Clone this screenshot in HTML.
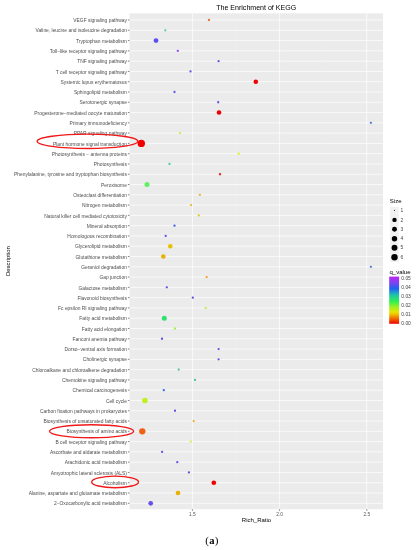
<!DOCTYPE html><html><head><meta charset="utf-8"><style>html,body{margin:0;padding:0;background:#fff;}svg{display:block;filter:blur(0.5px);}</style></head><body>
<svg width="419" height="550" viewBox="0 0 419 550" font-family="Liberation Sans, sans-serif">
<rect x="0" y="0" width="419" height="550" fill="#fff"/>
<rect x="129.5" y="13.3" width="253.50" height="495.90" fill="#ebebeb"/>
<line x1="148.80" y1="13.3" x2="148.80" y2="509.2" stroke="#efefef" stroke-width="0.4"/>
<line x1="236.00" y1="13.3" x2="236.00" y2="509.2" stroke="#efefef" stroke-width="0.4"/>
<line x1="323.20" y1="13.3" x2="323.20" y2="509.2" stroke="#efefef" stroke-width="0.4"/>
<line x1="129.5" y1="20.00" x2="383.0" y2="20.00" stroke="#fff" stroke-width="0.7"/>
<line x1="129.5" y1="30.28" x2="383.0" y2="30.28" stroke="#fff" stroke-width="0.7"/>
<line x1="129.5" y1="40.57" x2="383.0" y2="40.57" stroke="#fff" stroke-width="0.7"/>
<line x1="129.5" y1="50.85" x2="383.0" y2="50.85" stroke="#fff" stroke-width="0.7"/>
<line x1="129.5" y1="61.13" x2="383.0" y2="61.13" stroke="#fff" stroke-width="0.7"/>
<line x1="129.5" y1="71.41" x2="383.0" y2="71.41" stroke="#fff" stroke-width="0.7"/>
<line x1="129.5" y1="81.70" x2="383.0" y2="81.70" stroke="#fff" stroke-width="0.7"/>
<line x1="129.5" y1="91.98" x2="383.0" y2="91.98" stroke="#fff" stroke-width="0.7"/>
<line x1="129.5" y1="102.26" x2="383.0" y2="102.26" stroke="#fff" stroke-width="0.7"/>
<line x1="129.5" y1="112.55" x2="383.0" y2="112.55" stroke="#fff" stroke-width="0.7"/>
<line x1="129.5" y1="122.83" x2="383.0" y2="122.83" stroke="#fff" stroke-width="0.7"/>
<line x1="129.5" y1="133.11" x2="383.0" y2="133.11" stroke="#fff" stroke-width="0.7"/>
<line x1="129.5" y1="143.40" x2="383.0" y2="143.40" stroke="#fff" stroke-width="0.7"/>
<line x1="129.5" y1="153.68" x2="383.0" y2="153.68" stroke="#fff" stroke-width="0.7"/>
<line x1="129.5" y1="163.96" x2="383.0" y2="163.96" stroke="#fff" stroke-width="0.7"/>
<line x1="129.5" y1="174.25" x2="383.0" y2="174.25" stroke="#fff" stroke-width="0.7"/>
<line x1="129.5" y1="184.53" x2="383.0" y2="184.53" stroke="#fff" stroke-width="0.7"/>
<line x1="129.5" y1="194.81" x2="383.0" y2="194.81" stroke="#fff" stroke-width="0.7"/>
<line x1="129.5" y1="205.09" x2="383.0" y2="205.09" stroke="#fff" stroke-width="0.7"/>
<line x1="129.5" y1="215.38" x2="383.0" y2="215.38" stroke="#fff" stroke-width="0.7"/>
<line x1="129.5" y1="225.66" x2="383.0" y2="225.66" stroke="#fff" stroke-width="0.7"/>
<line x1="129.5" y1="235.94" x2="383.0" y2="235.94" stroke="#fff" stroke-width="0.7"/>
<line x1="129.5" y1="246.23" x2="383.0" y2="246.23" stroke="#fff" stroke-width="0.7"/>
<line x1="129.5" y1="256.51" x2="383.0" y2="256.51" stroke="#fff" stroke-width="0.7"/>
<line x1="129.5" y1="266.79" x2="383.0" y2="266.79" stroke="#fff" stroke-width="0.7"/>
<line x1="129.5" y1="277.07" x2="383.0" y2="277.07" stroke="#fff" stroke-width="0.7"/>
<line x1="129.5" y1="287.36" x2="383.0" y2="287.36" stroke="#fff" stroke-width="0.7"/>
<line x1="129.5" y1="297.64" x2="383.0" y2="297.64" stroke="#fff" stroke-width="0.7"/>
<line x1="129.5" y1="307.92" x2="383.0" y2="307.92" stroke="#fff" stroke-width="0.7"/>
<line x1="129.5" y1="318.21" x2="383.0" y2="318.21" stroke="#fff" stroke-width="0.7"/>
<line x1="129.5" y1="328.49" x2="383.0" y2="328.49" stroke="#fff" stroke-width="0.7"/>
<line x1="129.5" y1="338.77" x2="383.0" y2="338.77" stroke="#fff" stroke-width="0.7"/>
<line x1="129.5" y1="349.06" x2="383.0" y2="349.06" stroke="#fff" stroke-width="0.7"/>
<line x1="129.5" y1="359.34" x2="383.0" y2="359.34" stroke="#fff" stroke-width="0.7"/>
<line x1="129.5" y1="369.62" x2="383.0" y2="369.62" stroke="#fff" stroke-width="0.7"/>
<line x1="129.5" y1="379.90" x2="383.0" y2="379.90" stroke="#fff" stroke-width="0.7"/>
<line x1="129.5" y1="390.19" x2="383.0" y2="390.19" stroke="#fff" stroke-width="0.7"/>
<line x1="129.5" y1="400.47" x2="383.0" y2="400.47" stroke="#fff" stroke-width="0.7"/>
<line x1="129.5" y1="410.75" x2="383.0" y2="410.75" stroke="#fff" stroke-width="0.7"/>
<line x1="129.5" y1="421.04" x2="383.0" y2="421.04" stroke="#fff" stroke-width="0.7"/>
<line x1="129.5" y1="431.32" x2="383.0" y2="431.32" stroke="#fff" stroke-width="0.7"/>
<line x1="129.5" y1="441.60" x2="383.0" y2="441.60" stroke="#fff" stroke-width="0.7"/>
<line x1="129.5" y1="451.89" x2="383.0" y2="451.89" stroke="#fff" stroke-width="0.7"/>
<line x1="129.5" y1="462.17" x2="383.0" y2="462.17" stroke="#fff" stroke-width="0.7"/>
<line x1="129.5" y1="472.45" x2="383.0" y2="472.45" stroke="#fff" stroke-width="0.7"/>
<line x1="129.5" y1="482.73" x2="383.0" y2="482.73" stroke="#fff" stroke-width="0.7"/>
<line x1="129.5" y1="493.02" x2="383.0" y2="493.02" stroke="#fff" stroke-width="0.7"/>
<line x1="129.5" y1="503.30" x2="383.0" y2="503.30" stroke="#fff" stroke-width="0.7"/>
<line x1="192.40" y1="13.3" x2="192.40" y2="509.2" stroke="#fff" stroke-width="0.7"/>
<line x1="279.60" y1="13.3" x2="279.60" y2="509.2" stroke="#fff" stroke-width="0.7"/>
<line x1="366.80" y1="13.3" x2="366.80" y2="509.2" stroke="#fff" stroke-width="0.7"/>
<circle cx="208.9" cy="20.00" r="1.15" fill="#f07030"/>
<circle cx="165.3" cy="30.28" r="1.15" fill="#50d090"/>
<circle cx="156" cy="40.57" r="2.40" fill="#5d4ff5"/>
<circle cx="177.8" cy="50.85" r="1.15" fill="#8c48e8"/>
<circle cx="218.6" cy="61.13" r="1.15" fill="#6c50e8"/>
<circle cx="190.5" cy="71.41" r="1.15" fill="#5a58e8"/>
<circle cx="255.8" cy="81.70" r="2.30" fill="#f00000"/>
<circle cx="174.5" cy="91.98" r="1.15" fill="#5a58e8"/>
<circle cx="218.2" cy="102.26" r="1.15" fill="#6c50e8"/>
<circle cx="219" cy="112.55" r="2.30" fill="#f00000"/>
<circle cx="370.9" cy="122.83" r="1.15" fill="#4a78d8"/>
<circle cx="180" cy="133.11" r="1.15" fill="#c8f040"/>
<circle cx="141.3" cy="143.40" r="3.70" fill="#f00000"/>
<circle cx="238.8" cy="153.68" r="1.15" fill="#e0f020"/>
<circle cx="169.5" cy="163.96" r="1.15" fill="#40d090"/>
<circle cx="220" cy="174.25" r="1.15" fill="#f02020"/>
<circle cx="147" cy="184.53" r="2.50" fill="#60f060"/>
<circle cx="199.9" cy="194.81" r="1.15" fill="#e8b030"/>
<circle cx="191.1" cy="205.09" r="1.15" fill="#e8b828"/>
<circle cx="198.8" cy="215.38" r="1.15" fill="#e8c828"/>
<circle cx="174.5" cy="225.66" r="1.15" fill="#4060f0"/>
<circle cx="165.7" cy="235.94" r="1.15" fill="#6452e8"/>
<circle cx="170.3" cy="246.23" r="2.30" fill="#e8c000"/>
<circle cx="163.3" cy="256.51" r="2.30" fill="#e8b000"/>
<circle cx="370.9" cy="266.79" r="1.15" fill="#4a78d8"/>
<circle cx="206.7" cy="277.07" r="1.15" fill="#f0a020"/>
<circle cx="166.8" cy="287.36" r="1.15" fill="#5a50e8"/>
<circle cx="192.8" cy="297.64" r="1.15" fill="#5a50e8"/>
<circle cx="205.7" cy="307.92" r="1.15" fill="#c0f040"/>
<circle cx="164.3" cy="318.21" r="2.50" fill="#30e070"/>
<circle cx="175" cy="328.49" r="1.15" fill="#a0f040"/>
<circle cx="162" cy="338.77" r="1.15" fill="#5a50e8"/>
<circle cx="218.6" cy="349.06" r="1.15" fill="#6452e8"/>
<circle cx="218.6" cy="359.34" r="1.15" fill="#6452e8"/>
<circle cx="178.7" cy="369.62" r="1.15" fill="#48c498"/>
<circle cx="195" cy="379.90" r="1.15" fill="#48c498"/>
<circle cx="163.8" cy="390.19" r="1.15" fill="#3070f0"/>
<circle cx="144.9" cy="400.47" r="2.80" fill="#c0f020"/>
<circle cx="175" cy="410.75" r="1.15" fill="#6452e8"/>
<circle cx="193.7" cy="421.04" r="1.15" fill="#e8b028"/>
<circle cx="142.3" cy="431.32" r="3.15" fill="#f06010"/>
<circle cx="190.8" cy="441.60" r="1.15" fill="#d0f040"/>
<circle cx="162.1" cy="451.89" r="1.15" fill="#6452e8"/>
<circle cx="177.3" cy="462.17" r="1.15" fill="#6452e8"/>
<circle cx="188.9" cy="472.45" r="1.15" fill="#6452e8"/>
<circle cx="213.8" cy="482.73" r="2.35" fill="#f00000"/>
<circle cx="178" cy="493.02" r="2.35" fill="#e8b000"/>
<circle cx="150.7" cy="503.30" r="2.35" fill="#6452e8"/>
<line x1="127.90" y1="20.00" x2="129.5" y2="20.00" stroke="#333" stroke-width="0.6"/>
<text x="126.90" y="22.15" font-size="4.9" fill="#4d4d4d" text-anchor="end">VEGF signaling pathway</text>
<line x1="127.90" y1="30.28" x2="129.5" y2="30.28" stroke="#333" stroke-width="0.6"/>
<text x="126.90" y="32.43" font-size="4.9" fill="#4d4d4d" text-anchor="end">Valine, leucine and isoleucine degradation</text>
<line x1="127.90" y1="40.57" x2="129.5" y2="40.57" stroke="#333" stroke-width="0.6"/>
<text x="126.90" y="42.72" font-size="4.9" fill="#4d4d4d" text-anchor="end">Tryptophan metabolism</text>
<line x1="127.90" y1="50.85" x2="129.5" y2="50.85" stroke="#333" stroke-width="0.6"/>
<text x="126.90" y="53.00" font-size="4.9" fill="#4d4d4d" text-anchor="end">Toll−like receptor signaling pathway</text>
<line x1="127.90" y1="61.13" x2="129.5" y2="61.13" stroke="#333" stroke-width="0.6"/>
<text x="126.90" y="63.28" font-size="4.9" fill="#4d4d4d" text-anchor="end">TNF signaling pathway</text>
<line x1="127.90" y1="71.41" x2="129.5" y2="71.41" stroke="#333" stroke-width="0.6"/>
<text x="126.90" y="73.56" font-size="4.9" fill="#4d4d4d" text-anchor="end">T cell receptor signaling pathway</text>
<line x1="127.90" y1="81.70" x2="129.5" y2="81.70" stroke="#333" stroke-width="0.6"/>
<text x="126.90" y="83.85" font-size="4.9" fill="#4d4d4d" text-anchor="end">Systemic lupus erythematosus</text>
<line x1="127.90" y1="91.98" x2="129.5" y2="91.98" stroke="#333" stroke-width="0.6"/>
<text x="126.90" y="94.13" font-size="4.9" fill="#4d4d4d" text-anchor="end">Sphingolipid metabolism</text>
<line x1="127.90" y1="102.26" x2="129.5" y2="102.26" stroke="#333" stroke-width="0.6"/>
<text x="126.90" y="104.41" font-size="4.9" fill="#4d4d4d" text-anchor="end">Serotonergic synapse</text>
<line x1="127.90" y1="112.55" x2="129.5" y2="112.55" stroke="#333" stroke-width="0.6"/>
<text x="126.90" y="114.70" font-size="4.9" fill="#4d4d4d" text-anchor="end">Progesterone−mediated oocyte maturation</text>
<line x1="127.90" y1="122.83" x2="129.5" y2="122.83" stroke="#333" stroke-width="0.6"/>
<text x="126.90" y="124.98" font-size="4.9" fill="#4d4d4d" text-anchor="end">Primary immunodeficiency</text>
<line x1="127.90" y1="133.11" x2="129.5" y2="133.11" stroke="#333" stroke-width="0.6"/>
<text x="126.90" y="135.26" font-size="4.9" fill="#4d4d4d" text-anchor="end">PPAR signaling pathway</text>
<line x1="127.90" y1="143.40" x2="129.5" y2="143.40" stroke="#333" stroke-width="0.6"/>
<text x="126.90" y="145.55" font-size="4.9" fill="#4d4d4d" text-anchor="end">Plant hormone signal transduction</text>
<line x1="127.90" y1="153.68" x2="129.5" y2="153.68" stroke="#333" stroke-width="0.6"/>
<text x="126.90" y="155.83" font-size="4.9" fill="#4d4d4d" text-anchor="end">Photosynthesis − antenna proteins</text>
<line x1="127.90" y1="163.96" x2="129.5" y2="163.96" stroke="#333" stroke-width="0.6"/>
<text x="126.90" y="166.11" font-size="4.9" fill="#4d4d4d" text-anchor="end">Photosynthesis</text>
<line x1="127.90" y1="174.25" x2="129.5" y2="174.25" stroke="#333" stroke-width="0.6"/>
<text x="126.90" y="176.40" font-size="4.9" fill="#4d4d4d" text-anchor="end">Phenylalanine, tyrosine and tryptophan biosynthesis</text>
<line x1="127.90" y1="184.53" x2="129.5" y2="184.53" stroke="#333" stroke-width="0.6"/>
<text x="126.90" y="186.68" font-size="4.9" fill="#4d4d4d" text-anchor="end">Peroxisome</text>
<line x1="127.90" y1="194.81" x2="129.5" y2="194.81" stroke="#333" stroke-width="0.6"/>
<text x="126.90" y="196.96" font-size="4.9" fill="#4d4d4d" text-anchor="end">Osteoclast differentiation</text>
<line x1="127.90" y1="205.09" x2="129.5" y2="205.09" stroke="#333" stroke-width="0.6"/>
<text x="126.90" y="207.24" font-size="4.9" fill="#4d4d4d" text-anchor="end">Nitrogen metabolism</text>
<line x1="127.90" y1="215.38" x2="129.5" y2="215.38" stroke="#333" stroke-width="0.6"/>
<text x="126.90" y="217.53" font-size="4.9" fill="#4d4d4d" text-anchor="end">Natural killer cell mediated cytotoxicity</text>
<line x1="127.90" y1="225.66" x2="129.5" y2="225.66" stroke="#333" stroke-width="0.6"/>
<text x="126.90" y="227.81" font-size="4.9" fill="#4d4d4d" text-anchor="end">Mineral absorption</text>
<line x1="127.90" y1="235.94" x2="129.5" y2="235.94" stroke="#333" stroke-width="0.6"/>
<text x="126.90" y="238.09" font-size="4.9" fill="#4d4d4d" text-anchor="end">Homologous recombination</text>
<line x1="127.90" y1="246.23" x2="129.5" y2="246.23" stroke="#333" stroke-width="0.6"/>
<text x="126.90" y="248.38" font-size="4.9" fill="#4d4d4d" text-anchor="end">Glycerolipid metabolism</text>
<line x1="127.90" y1="256.51" x2="129.5" y2="256.51" stroke="#333" stroke-width="0.6"/>
<text x="126.90" y="258.66" font-size="4.9" fill="#4d4d4d" text-anchor="end">Glutathione metabolism</text>
<line x1="127.90" y1="266.79" x2="129.5" y2="266.79" stroke="#333" stroke-width="0.6"/>
<text x="126.90" y="268.94" font-size="4.9" fill="#4d4d4d" text-anchor="end">Geraniol degradation</text>
<line x1="127.90" y1="277.07" x2="129.5" y2="277.07" stroke="#333" stroke-width="0.6"/>
<text x="126.90" y="279.22" font-size="4.9" fill="#4d4d4d" text-anchor="end">Gap junction</text>
<line x1="127.90" y1="287.36" x2="129.5" y2="287.36" stroke="#333" stroke-width="0.6"/>
<text x="126.90" y="289.51" font-size="4.9" fill="#4d4d4d" text-anchor="end">Galactose metabolism</text>
<line x1="127.90" y1="297.64" x2="129.5" y2="297.64" stroke="#333" stroke-width="0.6"/>
<text x="126.90" y="299.79" font-size="4.9" fill="#4d4d4d" text-anchor="end">Flavonoid biosynthesis</text>
<line x1="127.90" y1="307.92" x2="129.5" y2="307.92" stroke="#333" stroke-width="0.6"/>
<text x="126.90" y="310.07" font-size="4.9" fill="#4d4d4d" text-anchor="end">Fc epsilon RI signaling pathway</text>
<line x1="127.90" y1="318.21" x2="129.5" y2="318.21" stroke="#333" stroke-width="0.6"/>
<text x="126.90" y="320.36" font-size="4.9" fill="#4d4d4d" text-anchor="end">Fatty acid metabolism</text>
<line x1="127.90" y1="328.49" x2="129.5" y2="328.49" stroke="#333" stroke-width="0.6"/>
<text x="126.90" y="330.64" font-size="4.9" fill="#4d4d4d" text-anchor="end">Fatty acid elongation</text>
<line x1="127.90" y1="338.77" x2="129.5" y2="338.77" stroke="#333" stroke-width="0.6"/>
<text x="126.90" y="340.92" font-size="4.9" fill="#4d4d4d" text-anchor="end">Fanconi anemia pathway</text>
<line x1="127.90" y1="349.06" x2="129.5" y2="349.06" stroke="#333" stroke-width="0.6"/>
<text x="126.90" y="351.21" font-size="4.9" fill="#4d4d4d" text-anchor="end">Dorso−ventral axis formation</text>
<line x1="127.90" y1="359.34" x2="129.5" y2="359.34" stroke="#333" stroke-width="0.6"/>
<text x="126.90" y="361.49" font-size="4.9" fill="#4d4d4d" text-anchor="end">Cholinergic synapse</text>
<line x1="127.90" y1="369.62" x2="129.5" y2="369.62" stroke="#333" stroke-width="0.6"/>
<text x="126.90" y="371.77" font-size="4.9" fill="#4d4d4d" text-anchor="end">Chloroalkane and chloroalkene degradation</text>
<line x1="127.90" y1="379.90" x2="129.5" y2="379.90" stroke="#333" stroke-width="0.6"/>
<text x="126.90" y="382.05" font-size="4.9" fill="#4d4d4d" text-anchor="end">Chemokine signaling pathway</text>
<line x1="127.90" y1="390.19" x2="129.5" y2="390.19" stroke="#333" stroke-width="0.6"/>
<text x="126.90" y="392.34" font-size="4.9" fill="#4d4d4d" text-anchor="end">Chemical carcinogenesis</text>
<line x1="127.90" y1="400.47" x2="129.5" y2="400.47" stroke="#333" stroke-width="0.6"/>
<text x="126.90" y="402.62" font-size="4.9" fill="#4d4d4d" text-anchor="end">Cell cycle</text>
<line x1="127.90" y1="410.75" x2="129.5" y2="410.75" stroke="#333" stroke-width="0.6"/>
<text x="126.90" y="412.90" font-size="4.9" fill="#4d4d4d" text-anchor="end">Carbon fixation pathways in prokaryotes</text>
<line x1="127.90" y1="421.04" x2="129.5" y2="421.04" stroke="#333" stroke-width="0.6"/>
<text x="126.90" y="423.19" font-size="4.9" fill="#4d4d4d" text-anchor="end">Biosynthesis of unsaturated fatty acids</text>
<line x1="127.90" y1="431.32" x2="129.5" y2="431.32" stroke="#333" stroke-width="0.6"/>
<text x="126.90" y="433.47" font-size="4.9" fill="#4d4d4d" text-anchor="end">Biosynthesis of amino acids</text>
<line x1="127.90" y1="441.60" x2="129.5" y2="441.60" stroke="#333" stroke-width="0.6"/>
<text x="126.90" y="443.75" font-size="4.9" fill="#4d4d4d" text-anchor="end">B cell receptor signaling pathway</text>
<line x1="127.90" y1="451.89" x2="129.5" y2="451.89" stroke="#333" stroke-width="0.6"/>
<text x="126.90" y="454.04" font-size="4.9" fill="#4d4d4d" text-anchor="end">Ascorbate and aldarate metabolism</text>
<line x1="127.90" y1="462.17" x2="129.5" y2="462.17" stroke="#333" stroke-width="0.6"/>
<text x="126.90" y="464.32" font-size="4.9" fill="#4d4d4d" text-anchor="end">Arachidonic acid metabolism</text>
<line x1="127.90" y1="472.45" x2="129.5" y2="472.45" stroke="#333" stroke-width="0.6"/>
<text x="126.90" y="474.60" font-size="4.9" fill="#4d4d4d" text-anchor="end">Amyotrophic lateral sclerosis (ALS)</text>
<line x1="127.90" y1="482.73" x2="129.5" y2="482.73" stroke="#333" stroke-width="0.6"/>
<text x="126.90" y="484.88" font-size="4.9" fill="#4d4d4d" text-anchor="end">Alcoholism</text>
<line x1="127.90" y1="493.02" x2="129.5" y2="493.02" stroke="#333" stroke-width="0.6"/>
<text x="126.90" y="495.17" font-size="4.9" fill="#4d4d4d" text-anchor="end">Alanine, aspartate and glutamate metabolism</text>
<line x1="127.90" y1="503.30" x2="129.5" y2="503.30" stroke="#333" stroke-width="0.6"/>
<text x="126.90" y="505.45" font-size="4.9" fill="#4d4d4d" text-anchor="end">2−Oxocarboxylic acid metabolism</text>
<line x1="192.40" y1="509.2" x2="192.40" y2="510.80" stroke="#333" stroke-width="0.6"/>
<text x="192.40" y="515.60" font-size="4.9" fill="#555" text-anchor="middle">1.5</text>
<line x1="279.60" y1="509.2" x2="279.60" y2="510.80" stroke="#333" stroke-width="0.6"/>
<text x="279.60" y="515.60" font-size="4.9" fill="#555" text-anchor="middle">2.0</text>
<line x1="366.80" y1="509.2" x2="366.80" y2="510.80" stroke="#333" stroke-width="0.6"/>
<text x="366.80" y="515.60" font-size="4.9" fill="#555" text-anchor="middle">2.5</text>
<text x="256.2" y="10.2" font-size="7.05" fill="#000" text-anchor="middle">The Enrichment of KEGG</text>
<text x="256.5" y="522.0" font-size="6" fill="#000" text-anchor="middle">Rich_Ratio</text>
<text transform="translate(10.3,261.1) rotate(-90)" x="0" y="0" font-size="6" fill="#000" text-anchor="middle">Description</text>
<text x="389.8" y="203.2" font-size="6" fill="#000">Size</text>
<rect x="390.2" y="207" width="8.6" height="55" fill="#f2f2f2"/>
<circle cx="394.5" cy="210.2" r="0.55" fill="#000"/>
<text x="400.6" y="211.95" font-size="4.9" fill="#444">1</text>
<circle cx="394.5" cy="219.9" r="2.2" fill="#000"/>
<text x="400.6" y="221.65" font-size="4.9" fill="#444">2</text>
<circle cx="394.5" cy="229.2" r="2.45" fill="#000"/>
<text x="400.6" y="230.95" font-size="4.9" fill="#444">3</text>
<circle cx="394.5" cy="238.7" r="2.7" fill="#000"/>
<text x="400.6" y="240.45" font-size="4.9" fill="#444">4</text>
<circle cx="394.5" cy="247.7" r="2.95" fill="#000"/>
<text x="400.6" y="249.45" font-size="4.9" fill="#444">5</text>
<circle cx="394.5" cy="257.2" r="3.2" fill="#000"/>
<text x="400.6" y="258.95" font-size="4.9" fill="#444">6</text>
<defs><linearGradient id="cb" x1="0" y1="1" x2="0" y2="0"><stop offset="0" stop-color="#f00000"/><stop offset="0.1" stop-color="#f06000"/><stop offset="0.2" stop-color="#f0c000"/><stop offset="0.25" stop-color="#e8e400"/><stop offset="0.35" stop-color="#a0f020"/><stop offset="0.47" stop-color="#30f050"/><stop offset="0.6" stop-color="#20c8a0"/><stop offset="0.68" stop-color="#2090d8"/><stop offset="0.75" stop-color="#2060f0"/><stop offset="0.85" stop-color="#7048f0"/><stop offset="0.95" stop-color="#a830f0"/><stop offset="1" stop-color="#b828f0"/></linearGradient></defs>
<text x="389.5" y="273.8" font-size="6" fill="#000">q_value</text>
<rect x="389.2" y="276.6" width="9.9" height="47.2" fill="url(#cb)"/>
<text x="401.3" y="324.85" font-size="4.9" fill="#444">0.00</text>
<text x="401.3" y="315.87" font-size="4.9" fill="#444">0.01</text>
<text x="401.3" y="306.89" font-size="4.9" fill="#444">0.02</text>
<text x="401.3" y="297.91" font-size="4.9" fill="#444">0.03</text>
<text x="401.3" y="288.93" font-size="4.9" fill="#444">0.04</text>
<text x="401.3" y="279.95" font-size="4.9" fill="#444">0.05</text>
<g fill="none" stroke="#f01818" stroke-width="1.35">
<ellipse cx="87.5" cy="141.3" rx="50.4" ry="7.2"/>
<ellipse cx="91.6" cy="431.2" rx="42.1" ry="6.5"/>
<ellipse cx="115.1" cy="481.9" rx="23.4" ry="5.8"/>
</g>
<g font-family="Liberation Serif, serif" fill="#000" text-anchor="middle"><text x="207.0" y="544.1" font-size="11">(</text><text x="211.8" y="543.9" font-size="10.5" font-weight="bold">a</text><text x="216.6" y="544.1" font-size="11">)</text></g>
</svg></body></html>
